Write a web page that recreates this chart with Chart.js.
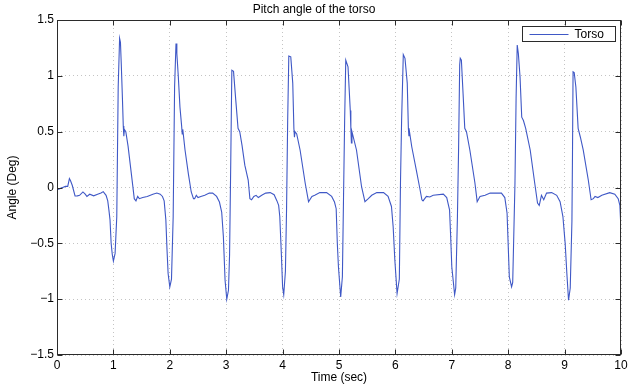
<!DOCTYPE html>
<html>
<head>
<meta charset="utf-8">
<script src="https://cdn.jsdelivr.net/npm/chart.js@4.4.1/dist/chart.umd.min.js"></script>
<style>
  html, body { margin: 0; padding: 0; background: #fff; }
  canvas { display: block; }
</style>
</head>
<body>
<canvas id="pitchChart" width="628" height="389"></canvas>
<script>
// Pitch angle of the torso (time in s, angle in deg)
const times = [
  0, 0.05, 0.1, 0.15, 0.19, 0.22, 0.24, 0.27, 0.32, 0.36, 0.4, 0.46, 0.5, 0.53, 0.58, 0.65, 0.72, 0.78, 0.82, 0.87, 0.9, 0.92, 0.94, 0.96, 0.98, 1.0, 1.03,
  1.06, 1.085, 1.11, 1.125, 1.14, 1.16, 1.175, 1.185, 1.195, 1.22, 1.26, 1.3, 1.34, 1.37, 1.4, 1.43, 1.46, 1.52, 1.6, 1.7, 1.77, 1.83, 1.87, 1.9, 1.93, 1.95, 1.97, 2.0, 2.03,
  2.06, 2.085, 2.11, 2.125, 2.15, 2.18, 2.21, 2.22, 2.23, 2.27, 2.33, 2.38, 2.42, 2.44, 2.47, 2.5, 2.55, 2.62, 2.7, 2.76, 2.83, 2.88, 2.92, 2.95, 2.98, 3.01, 3.04,
  3.06, 3.08, 3.1, 3.13, 3.17, 3.21, 3.24, 3.28, 3.33, 3.39, 3.42, 3.45, 3.49, 3.53, 3.57, 3.63, 3.7, 3.78, 3.85, 3.9, 3.93, 3.95, 3.98, 4.0, 4.02, 4.05,
  4.07, 4.09, 4.11, 4.145, 4.18, 4.2, 4.21, 4.22, 4.25, 4.31, 4.4, 4.46, 4.52, 4.57, 4.66, 4.78, 4.87, 4.92, 4.95, 4.97, 4.99, 5.03, 5.06,
  5.08, 5.1, 5.12, 5.16, 5.2, 5.21, 5.22, 5.23, 5.31, 5.4, 5.46, 5.52, 5.58, 5.67, 5.79, 5.87, 5.93, 5.96, 5.99, 6.03, 6.07,
  6.09, 6.11, 6.14, 6.17, 6.21, 6.23, 6.24, 6.25, 6.29, 6.37, 6.43, 6.47, 6.49, 6.55, 6.61, 6.67, 6.85, 6.91, 6.96, 6.98, 7.0, 7.03, 7.05, 7.07,
  7.1, 7.12, 7.14, 7.15, 7.17, 7.2, 7.23, 7.26, 7.32, 7.41, 7.45, 7.5, 7.59, 7.68, 7.88, 7.94, 7.98, 8.02, 8.06, 8.08,
  8.12, 8.14, 8.16, 8.18, 8.21, 8.24, 8.27, 8.31, 8.39, 8.47, 8.52, 8.55, 8.59, 8.63, 8.68, 8.77, 8.86, 8.92, 8.97, 9.01, 9.04, 9.07, 9.1,
  9.13, 9.14, 9.15, 9.17, 9.2, 9.24, 9.28, 9.33, 9.42, 9.47, 9.51, 9.54, 9.59, 9.66, 9.8, 9.89, 9.95, 9.98, 10.0
];
const angles = [
  -0.02, -0.01, 0.0, 0.01, 0.01, 0.08, 0.06, 0.02, -0.076, -0.075, -0.07, -0.04, -0.06, -0.08, -0.06, -0.075, -0.06, -0.05, -0.037, -0.07, -0.12, -0.2, -0.29, -0.5, -0.6, -0.66, -0.59,
  -0.26, 0.9, 1.336, 1.3, 1.1, 0.8, 0.55, 0.46, 0.52, 0.5, 0.37, 0.2, 0.03, -0.1, -0.12, -0.08, -0.1, -0.09, -0.08, -0.06, -0.05, -0.06, -0.08, -0.12, -0.29, -0.55, -0.77, -0.89, -0.82,
  -0.26, 0.9, 1.29, 1.2, 1.0, 0.72, 0.55, 0.48, 0.52, 0.336, 0.12, -0.04, -0.1, -0.1, -0.07, -0.09, -0.08, -0.07, -0.05, -0.05, -0.08, -0.13, -0.22, -0.44, -0.83, -1.0, -0.92,
  -0.6, 0.2, 1.05, 1.04, 0.78, 0.53, 0.5, 0.38, 0.2, 0.067, -0.1, -0.11, -0.08, -0.07, -0.09, -0.07, -0.05, -0.046, -0.065, -0.12, -0.16, -0.26, -0.62, -0.89, -0.96, -0.75,
  -0.2, 0.6, 1.177, 1.17, 0.935, 0.53, 0.45, 0.5, 0.48, 0.336, 0.04, -0.127, -0.08, -0.07, -0.046, -0.046, -0.08, -0.13, -0.19, -0.5, -0.71, -0.98, -0.8,
  -0.1, 0.6, 1.14, 1.08, 0.69, 0.53, 0.4, 0.5, 0.336, 0.007, -0.127, -0.1, -0.07, -0.046, -0.046, -0.08, -0.17, -0.35, -0.65, -0.95, -0.82,
  0.04, 0.6, 1.19, 1.157, 0.935, 0.53, 0.46, 0.5, 0.365, 0.157, 0.0, -0.11, -0.12, -0.08, -0.085, -0.07, -0.06, -0.09, -0.2, -0.44, -0.71, -0.86, -0.96, -0.9,
  -0.26, 0.336, 1.1, 1.157, 1.14, 0.84, 0.53, 0.5, 0.336, 0.04, -0.127, -0.08, -0.07, -0.05, -0.05, -0.09, -0.23, -0.8, -0.89, -0.85,
  0.04, 0.8, 1.275, 1.2, 0.99, 0.63, 0.6, 0.53, 0.336, 0.04, -0.14, -0.16, -0.07, -0.11, -0.05, -0.046, -0.07, -0.127, -0.26, -0.5, -0.77, -1.01, -0.9,
  -0.3, 0.3, 1.037, 1.03, 0.9, 0.53, 0.45, 0.336, 0.067, -0.11, -0.1, -0.08, -0.09, -0.07, -0.046, -0.06, -0.1, -0.16, -0.38
];
const xTicks = [0, 1, 2, 3, 4, 5, 6, 7, 8, 9, 10];
const yTicks = [-1.5, -1, -0.5, 0, 0.5, 1, 1.5];

const lineColor = '#3f58c6';
const axisColor = '#2b2b2b';
const fontFamily = '"Liberation Sans", Arial, Helvetica, sans-serif';
const fontSize = 12;

// frame on all four sides, inward tick marks and the boxed legend, MATLAB style
const matlabFrame = {
  id: 'matlabFrame',
  afterDraw(chart) {
    const { ctx, chartArea: a, scales } = chart;
    const L = Math.round(a.left) + 0.5, R = Math.round(a.right) - 0.5;
    const T = Math.round(a.top) + 0.5, B = Math.round(a.bottom) - 0.5;
    ctx.save();
    ctx.strokeStyle = axisColor;
    ctx.lineWidth = 1;
    ctx.strokeRect(L, T, R - L, B - T);
    ctx.beginPath();
    xTicks.forEach(v => {
      const px = Math.round(scales.x.getPixelForValue(v)) + 0.5;
      ctx.moveTo(px, B); ctx.lineTo(px, B - 5);
      ctx.moveTo(px, T); ctx.lineTo(px, T + 5);
    });
    yTicks.forEach(v => {
      const py = Math.round(scales.y.getPixelForValue(v)) + 0.5;
      ctx.moveTo(L, py); ctx.lineTo(L + 5, py);
      ctx.moveTo(R, py); ctx.lineTo(R - 5, py);
    });
    ctx.stroke();

    // legend box
    const ds = chart.data.datasets[0];
    const bw = 93, bh = 15;
    const bx = Math.round(a.right) - 6 - bw + 0.5;
    const by = Math.round(a.top) + 6 + 0.5;
    ctx.fillStyle = '#fff';
    ctx.fillRect(bx, by, bw, bh);
    ctx.strokeStyle = axisColor;
    ctx.strokeRect(bx, by, bw, bh);
    const my = Math.round(by + bh / 2) + 0.5;
    ctx.beginPath();
    ctx.strokeStyle = ds.borderColor;
    ctx.moveTo(bx + 7, my); ctx.lineTo(bx + 46, my);
    ctx.stroke();
    ctx.fillStyle = '#000';
    ctx.font = fontSize + 'px ' + fontFamily;
    ctx.textBaseline = 'middle';
    ctx.textAlign = 'left';
    ctx.fillText(ds.label, bx + 52, by + bh / 2 + 0.5);
    ctx.restore();
  }
};

new Chart(document.getElementById('pitchChart'), {
  type: 'line',
  data: {
    datasets: [{
      label: 'Torso',
      data: times.map((t, i) => ({ x: t, y: angles[i] })),
      borderColor: lineColor,
      borderWidth: 1.1,
      pointRadius: 0,
      tension: 0,
      fill: false
    }]
  },
  options: {
    responsive: false,
    animation: false,
    devicePixelRatio: 1,
    layout: { padding: { left: 0, right: 0, top: 0, bottom: 0 } },
    plugins: {
      legend: { display: false },
      tooltip: { enabled: false },
      title: {
        display: true,
        text: 'Pitch angle of the torso',
        color: '#000',
        font: { family: fontFamily, size: fontSize, weight: 'normal' },
        padding: { top: 2.5, bottom: 3.1 }
      }
    },
    scales: {
      x: {
        type: 'linear',
        min: 0,
        max: 10,
        afterFit: s => { s.height = 34; s.paddingRight = 7; },
        afterBuildTicks: s => { s.ticks = xTicks.map(v => ({ value: v })); },
        ticks: { color: '#000', padding: 3, maxRotation: 0, font: { family: fontFamily, size: fontSize } },
        grid: { color: '#c4c4c4', lineWidth: 1, drawTicks: false },
        border: { display: false, dash: [1, 3] },
        title: {
          display: true,
          text: 'Time (sec)',
          color: '#000',
          font: { family: fontFamily, size: fontSize },
          padding: { top: 0, bottom: 4.5 }
        }
      },
      y: {
        min: -1.5,
        max: 1.5,
        afterFit: s => { s.width = 57; },
        afterBuildTicks: s => { s.ticks = yTicks.map(v => ({ value: v })); },
        ticks: {
          color: '#000',
          padding: 3,
          font: { family: fontFamily, size: fontSize },
          callback: v => String(v).replace('-', '\u2212')
        },
        grid: { color: '#c4c4c4', lineWidth: 1, drawTicks: false },
        border: { display: false, dash: [1, 3] },
        title: {
          display: true,
          text: 'Angle (Deg)',
          color: '#000',
          font: { family: fontFamily, size: fontSize },
          padding: { top: 5.5, bottom: 0 }
        }
      }
    }
  },
  plugins: [matlabFrame]
});
</script>
</body>
</html>
